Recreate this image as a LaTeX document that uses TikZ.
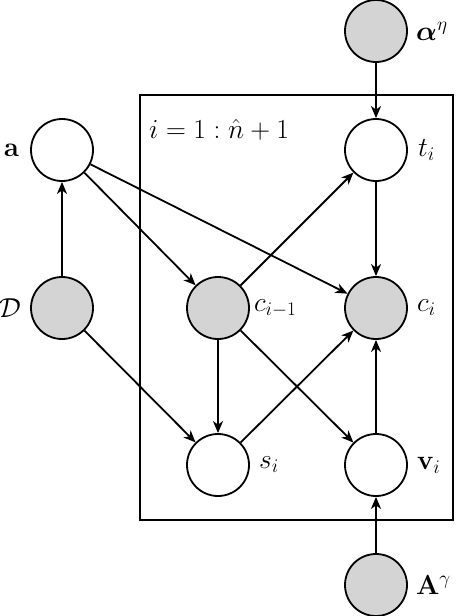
\RequirePackage{fix-cm}
\documentclass[tikz,border=0pt]{standalone}
\usepackage{amsmath,amssymb,bm}
\usetikzlibrary{arrows.meta}
\begin{document}
\begin{tikzpicture}[x=1pt,y=-1pt,font=\fontsize{27.5}{33}\selectfont,
  var/.style={circle,draw,line width=1.8pt,minimum size=62pt,inner sep=0pt,fill=white},
  obs/.style={var,fill=black!17},
  edge/.style={line width=1.8pt,-{Stealth[length=12pt,width=10pt,inset=3.5pt]}},
  plate/.style={draw,line width=2.8pt}]
\useasboundingbox (0,0) rectangle (456,616);
\coordinate (plnw) at (140,95);
\coordinate (plse) at (453,520);
\draw[plate] (plnw) rectangle (plse);
\node[anchor=west,inner sep=0pt] (pll) at (149,130) {$i=1:\hat{n}+1$};
\node[obs,label={[inner sep=0pt,label distance=8pt]0:$\bm{\alpha}^{\eta}$}] (alpha) at (376,31) {};
\node[var,label={[inner sep=0pt,label distance=10pt]0:$t_i$}] (t) at (376,150) {};
\node[var,label={[inner sep=0pt,label distance=11pt]180:$\mathbf{a}$}] (a) at (62,150) {};
\node[obs,label={[inner sep=0pt,label distance=9pt]180:$\mathcal{D}$}] (D) at (62,308) {};
\node[obs,label={[inner sep=0pt,label distance=4pt]0:$c_{i-1}$}] (cp) at (218,308) {};
\node[obs,label={[inner sep=0pt,label distance=9pt]0:$c_i$}] (c) at (376,308) {};
\node[var,label={[inner sep=0pt,label distance=9pt]0:$s_i$}] (s) at (218,465) {};
\node[var,label={[inner sep=0pt,label distance=9pt]0:$\mathbf{v}_i$}] (v) at (376,465) {};
\node[obs,label={[inner sep=0pt,label distance=8pt]0:$\mathbf{A}^{\gamma}$}] (A) at (376,585) {};
\draw[edge] (alpha) -- (t);
\draw[edge] (t) -- (c);
\draw[edge] (D) -- (a);
\draw[edge] (a) -- (cp);
\draw[edge] (a) -- (c);
\draw[edge] (D) -- (s);
\draw[edge] (cp) -- (t);
\draw[edge] (cp) -- (s);
\draw[edge] (cp) -- (v);
\draw[edge] (s) -- (c);
\draw[edge] (v) -- (c);
\draw[edge] (A) -- (v);
\end{tikzpicture}
\end{document}
